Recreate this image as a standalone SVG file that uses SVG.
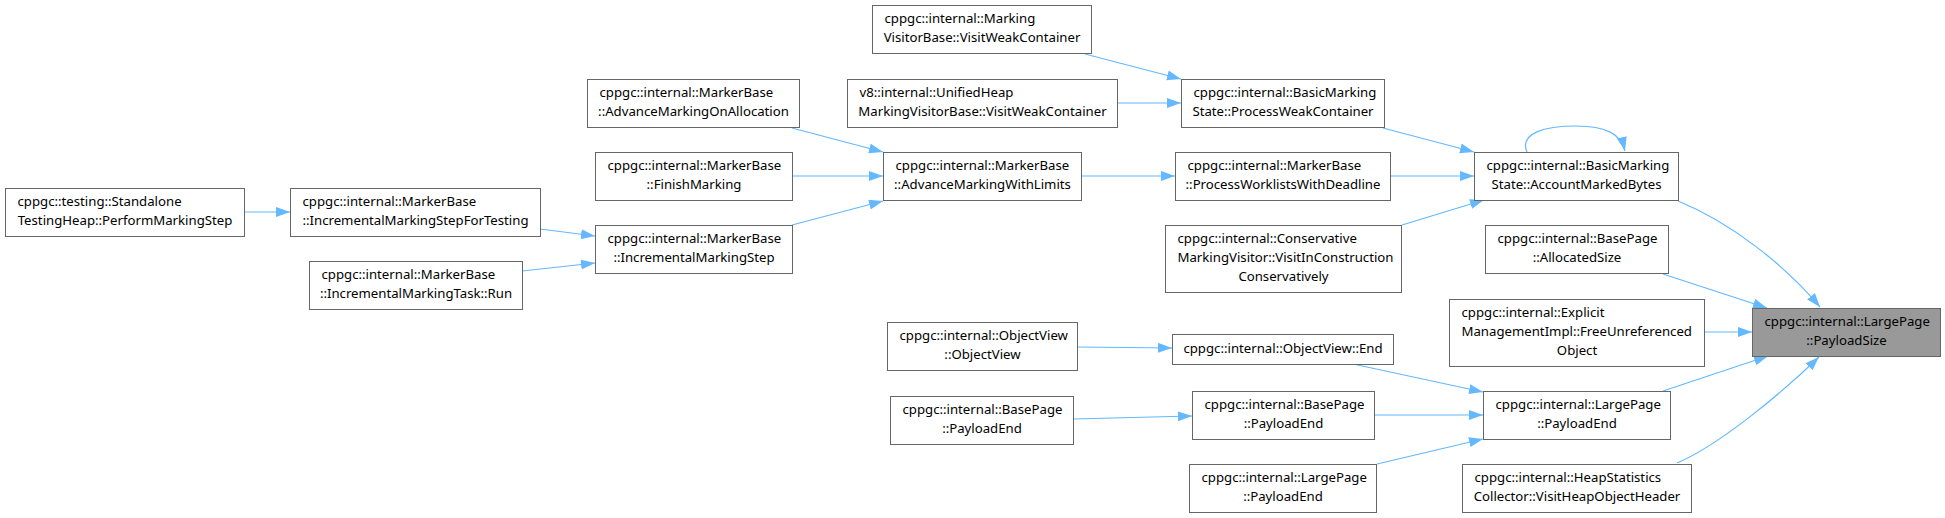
<svg xmlns="http://www.w3.org/2000/svg" width="1945" height="518" viewBox="0 0 1945 518">
<style>
.node rect{fill:#ffffff;stroke:#666666;stroke-width:1}
.hl rect{fill:#999999}
text{font-family:"Noto Sans","Liberation Sans",sans-serif;font-size:13.2px;fill:#000000}
.c{text-anchor:middle}
.edge{stroke:#63b8ff;stroke-width:1.2;fill:none;marker-end:url(#ah)}
</style>
<defs>
<marker id="ah" markerUnits="userSpaceOnUse" markerWidth="15" markerHeight="11" refX="14" refY="5" orient="auto"><path d="M0,0 L14,5 L0,10 Z" fill="#63b8ff"/></marker>
</defs>
<rect x="0" y="0" width="1945" height="518" fill="#ffffff"/>
<g id="edges">
<path class="edge" d="M244,212 L290,212"/>
<path class="edge" d="M540,229 L595,236"/>
<path class="edge" d="M522,271 L595,263"/>
<path class="edge" d="M792,128 L883,152"/>
<path class="edge" d="M792,176 L883,176"/>
<path class="edge" d="M792,225 L883,201"/>
<path class="edge" d="M1085,54 L1181,79"/>
<path class="edge" d="M1117,103 L1181,103"/>
<path class="edge" d="M1081,176 L1175,176"/>
<path class="edge" d="M1383,128 L1474,152"/>
<path class="edge" d="M1390,176 L1474,176"/>
<path class="edge" d="M1402,225 L1484,200"/>
<path class="edge" d="M1527,152 C1519,133 1545,126 1576,126 C1606,126 1621,134 1625,151"/>
<path class="edge" d="M1678,201 C1730,222 1785,265 1820,307"/>
<path class="edge" d="M1663,274 L1767,308"/>
<path class="edge" d="M1704,332 L1752,332"/>
<path class="edge" d="M1663,391 L1768,356"/>
<path class="edge" d="M1677,463 C1720,445 1785,390 1819,357"/>
<path class="edge" d="M1077,347 L1172,348"/>
<path class="edge" d="M1353,364 L1483,392"/>
<path class="edge" d="M1374,415 L1483,415"/>
<path class="edge" d="M1377,464 L1483,439"/>
<path class="edge" d="M1073,419 L1192,416"/>
</g>
<g id="n1" class="node"><rect x="5.5" y="188.5" width="239" height="48"/><text x="17.5" y="206">cppgc::testing::Standalone</text><text class="c" x="125" y="225">TestingHeap::PerformMarkingStep</text></g>
<g id="n2" class="node"><rect x="290.5" y="188.5" width="250" height="48"/><text x="302.5" y="206">cppgc::internal::MarkerBase</text><text class="c" x="415.5" y="225">::IncrementalMarkingStepForTesting</text></g>
<g id="n3" class="node"><rect x="309.5" y="261.5" width="213" height="48"/><text x="321.5" y="279">cppgc::internal::MarkerBase</text><text class="c" x="416" y="298">::IncrementalMarkingTask::Run</text></g>
<g id="n4" class="node"><rect x="587.5" y="79.5" width="212" height="48"/><text x="599.5" y="97">cppgc::internal::MarkerBase</text><text class="c" x="693.5" y="116">::AdvanceMarkingOnAllocation</text></g>
<g id="n5" class="node"><rect x="595.5" y="152.5" width="197" height="48"/><text x="607.5" y="170">cppgc::internal::MarkerBase</text><text class="c" x="694" y="189">::FinishMarking</text></g>
<g id="n6" class="node"><rect x="595.5" y="225.5" width="197" height="48"/><text x="607.5" y="243">cppgc::internal::MarkerBase</text><text class="c" x="694" y="262">::IncrementalMarkingStep</text></g>
<g id="n7" class="node"><rect x="883.5" y="152.5" width="198" height="48"/><text x="895.5" y="170">cppgc::internal::MarkerBase</text><text class="c" x="982.5" y="189">::AdvanceMarkingWithLimits</text></g>
<g id="n8" class="node"><rect x="872.5" y="5.5" width="219" height="48"/><text x="884.5" y="23">cppgc::internal::Marking</text><text class="c" x="982" y="42">VisitorBase::VisitWeakContainer</text></g>
<g id="n9" class="node"><rect x="847.5" y="79.5" width="270" height="48"/><text x="859.5" y="97">v8::internal::UnifiedHeap</text><text class="c" x="982.5" y="116">MarkingVisitorBase::VisitWeakContainer</text></g>
<g id="n10" class="node"><rect x="1181.5" y="79.5" width="203" height="48"/><text x="1193.5" y="97">cppgc::internal::BasicMarking</text><text class="c" x="1283" y="116">State::ProcessWeakContainer</text></g>
<g id="n11" class="node"><rect x="1175.5" y="152.5" width="215" height="48"/><text x="1187.5" y="170">cppgc::internal::MarkerBase</text><text class="c" x="1283" y="189">::ProcessWorklistsWithDeadline</text></g>
<g id="n12" class="node"><rect x="1165.5" y="225.5" width="236" height="67"/><text x="1177.5" y="243">cppgc::internal::Conservative</text><text x="1177.5" y="262">MarkingVisitor::VisitInConstruction</text><text class="c" x="1283.5" y="281">Conservatively</text></g>
<g id="n13" class="node"><rect x="1474.5" y="152.5" width="204" height="48"/><text x="1486.5" y="170">cppgc::internal::BasicMarking</text><text class="c" x="1576.5" y="189">State::AccountMarkedBytes</text></g>
<g id="n14" class="node"><rect x="1485.5" y="225.5" width="183" height="48"/><text x="1497.5" y="243">cppgc::internal::BasePage</text><text class="c" x="1577" y="262">::AllocatedSize</text></g>
<g id="n15" class="node"><rect x="1449.5" y="299.5" width="255" height="67"/><text x="1461.5" y="317">cppgc::internal::Explicit</text><text x="1461.5" y="336">ManagementImpl::FreeUnreferenced</text><text class="c" x="1577" y="355">Object</text></g>
<g id="n16" class="node hl"><rect x="1752.5" y="308.5" width="188" height="48"/><text x="1764.5" y="326">cppgc::internal::LargePage</text><text class="c" x="1846.5" y="345">::PayloadSize</text></g>
<g id="n17" class="node"><rect x="887.5" y="322.5" width="190" height="48"/><text x="899.5" y="340">cppgc::internal::ObjectView</text><text class="c" x="982.5" y="359">::ObjectView</text></g>
<g id="n18" class="node"><rect x="1172.5" y="334.5" width="221" height="30"/><text class="c" x="1283" y="353">cppgc::internal::ObjectView::End</text></g>
<g id="n19" class="node"><rect x="890.5" y="396.5" width="183" height="48"/><text x="902.5" y="414">cppgc::internal::BasePage</text><text class="c" x="982" y="433">::PayloadEnd</text></g>
<g id="n20" class="node"><rect x="1192.5" y="391.5" width="182" height="48"/><text x="1204.5" y="409">cppgc::internal::BasePage</text><text class="c" x="1283.5" y="428">::PayloadEnd</text></g>
<g id="n21" class="node"><rect x="1483.5" y="391.5" width="187" height="48"/><text x="1495.5" y="409">cppgc::internal::LargePage</text><text class="c" x="1577" y="428">::PayloadEnd</text></g>
<g id="n22" class="node"><rect x="1189.5" y="464.5" width="187" height="48"/><text x="1201.5" y="482">cppgc::internal::LargePage</text><text class="c" x="1283" y="501">::PayloadEnd</text></g>
<g id="n23" class="node"><rect x="1462.5" y="464.5" width="229" height="48"/><text x="1474.5" y="482">cppgc::internal::HeapStatistics</text><text class="c" x="1577" y="501">Collector::VisitHeapObjectHeader</text></g>
</svg>
